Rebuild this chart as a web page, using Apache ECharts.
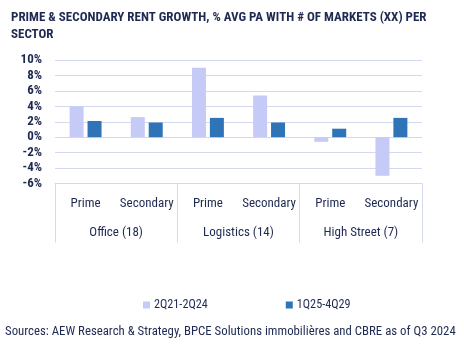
<!DOCTYPE html>
<html><head><meta charset="utf-8">
<script src="https://cdn.jsdelivr.net/npm/echarts@6/dist/echarts.min.js"></script>
<style>html,body{margin:0;padding:0;background:#fff}#c{width:464px;height:347px}</style>
</head><body><div id="c"></div>
<script>
const subCategories = ['Prime', 'Secondary', 'Prime', 'Secondary', 'Prime', 'Secondary'];
const groups = ['Office (18)', 'Logistics (14)', 'High Street (7)'];
const seriesNames = ['2Q21-2Q24', '1Q25-4Q29'];
const hist = [4.0, 2.6, 9.0, 5.4, -0.6, -5.0];
const fcst = [2.1, 1.9, 2.5, 1.9, 1.1, 2.5];
const yTicks = { min: -6, max: 10, interval: 2 };

const FONT = '"Roboto Condensed", "DejaVu Sans", sans-serif';
const NAVY = '#1f2a52';
const GRID = '#d5d9ee';
const chart = echarts.init(document.getElementById('c'), null, { renderer: 'canvas' });
chart.setOption({
  animation: false,
  textStyle: { fontFamily: FONT, color: NAVY },
  title: [
    { text: 'PRIME & SECONDARY RENT GROWTH, % AVG PA WITH # OF MARKETS (XX) PER\nSECTOR',
      left: 11, top: 9, padding: 0,
      textStyle: { fontFamily: FONT, fontWeight: 'bold', fontSize: 13, lineHeight: 17, color: NAVY } },
    { text: 'Sources: AEW Research & Strategy, BPCE Solutions immobilières and CBRE as of Q3 2024',
      left: 5, top: 325, padding: 0,
      textStyle: { fontFamily: FONT, fontWeight: 'normal', fontSize: 12.8, color: NAVY } }
  ],
  legend: {
    data: seriesNames, top: 294, left: 138, itemWidth: 7, itemHeight: 7, itemGap: 78,
    icon: 'rect', textStyle: { fontFamily: FONT, fontSize: 12.2, color: NAVY, padding: [0, 0, 0, -1] }
  },
  grid: { left: 55, right: 42, top: 60, bottom: 163.5, containLabel: false },
  xAxis: [
    { type: 'category', data: subCategories, position: 'bottom',
      axisLine: { show: true, onZero: false, lineStyle: { color: GRID, width: 1 } },
      axisTick: { show: false },
      axisLabel: { interval: 0, margin: 14, fontSize: 13, fontFamily: FONT, color: NAVY } },
    { type: 'category', data: groups, position: 'bottom', gridIndex: 0, offset: 0,
      axisLine: { show: false, onZero: false },
      axisTick: { show: true, length: 59, lineStyle: { color: GRID } },
      axisLabel: { interval: 0, margin: 43, fontSize: 13, fontFamily: FONT, color: NAVY } }
  ],
  yAxis: {
    type: 'value', min: yTicks.min, max: yTicks.max, interval: yTicks.interval,
    axisLine: { show: false }, axisTick: { show: false },
    splitLine: { lineStyle: { color: GRID, width: 1 } },
    axisLabel: { formatter: '{value}%', fontSize: 13, fontWeight: 'bold', fontFamily: FONT, color: NAVY, margin: 13 }
  },
  series: [
    { name: seriesNames[0], type: 'bar', data: hist, barWidth: 14, barGap: '28%', itemStyle: { color: '#c5cbf6' } },
    { name: seriesNames[1], type: 'bar', data: fcst, barWidth: 14, barGap: '28%', itemStyle: { color: '#2e74b6' } }
  ]
});
</script></body></html>
